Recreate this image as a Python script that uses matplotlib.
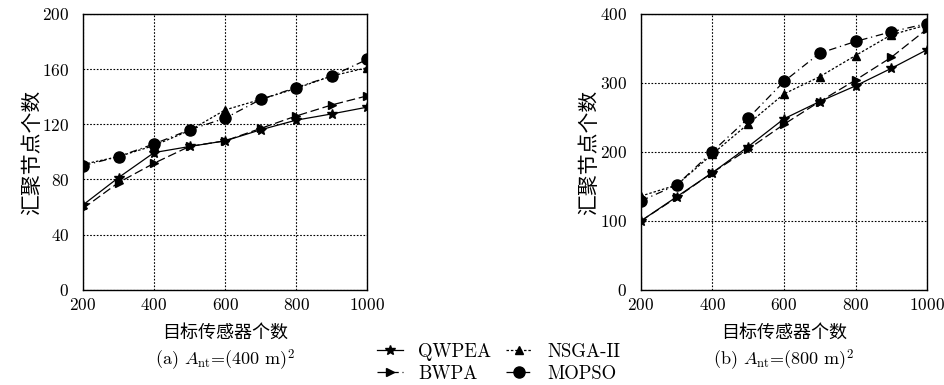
import matplotlib
matplotlib.use('Agg')
import matplotlib.pyplot as plt
import numpy as np

plt.rcParams['mathtext.fontset'] = 'cm'
plt.rcParams['axes.formatter.use_mathtext'] = True

# Data
targets = [200, 300, 400, 500, 600, 700, 800, 900, 1000]

# (a) A_nt = (400 m)^2
qwpea_a = [61.6, 81.4, 99.5, 103.9, 108, 116, 123, 127.5, 132.4]
bwpa_a = [59, 77.8, 91.8, 104, 108, 117, 126, 134, 140.6]
nsga_a = [91, 96.6, 104.6, 115.5, 130.4, 138, 146, 155, 161]
mopso_a = [90, 96.6, 105.8, 116, 124.4, 138, 146.6, 155, 167]

# (b) A_nt = (800 m)^2
qwpea_b = [100, 135, 170, 207.7, 248, 273, 295.6, 321, 348]
bwpa_b = [100, 134, 170, 204, 240, 273, 304, 337, 378]
nsga_b = [136, 152, 197, 240.6, 284, 309, 339.6, 369.6, 384]
mopso_b = [129, 152, 200.5, 248.8, 302, 343, 360, 374, 386]

cjk = 'Noto Sans CJK SC'
num_font = 'cmr10'

styles = [
    dict(label='QWPEA', linestyle='-', marker='*', markersize=7),
    dict(label='BWPA', linestyle=(0, (7, 3)), marker='>', markersize=6),
    dict(label='NSGA-II', linestyle=(0, (2, 1.5)), marker='^', markersize=6),
    dict(label='MOPSO', linestyle=(0, (6, 3, 1, 3)), marker='o', markersize=8),
]

fig = plt.figure(figsize=(9.44, 3.85), dpi=100)
ax1 = fig.add_axes([0.088, 0.247, 0.301, 0.717])
ax2 = fig.add_axes([0.679, 0.247, 0.303, 0.717])


def draw(ax, series, ylim, yticks, caption):
    lines = []
    for vals, st in zip(series, styles):
        ln, = ax.plot(targets, vals, color='black', linewidth=0.9, **st)
        lines.append(ln)
    ax.set_xlim(200, 1000)
    ax.set_ylim(*ylim)
    ax.set_xticks([200, 400, 600, 800, 1000])
    ax.set_yticks(yticks)
    ax.grid(True, color='black', linestyle=(0, (1.5, 1.5)), linewidth=0.8)
    ax.tick_params(length=0, labelsize=12.5)
    ax.tick_params(axis='y', pad=10)
    ax.tick_params(axis='x', pad=5)
    for lab in ax.get_xticklabels() + ax.get_yticklabels():
        lab.set_fontfamily(num_font)
    for s in ax.spines.values():
        s.set_linewidth(1.0)
    ax.set_xlabel('目标传感器个数', fontfamily=cjk, fontsize=13, fontweight='light')
    ax.xaxis.set_label_coords(0.5, -0.123)
    ax.set_ylabel('汇聚节点个数', fontfamily=cjk, fontsize=15, fontweight='light')
    ax.yaxis.set_label_coords(-0.142, 0.5)
    ax.text(0.5, -0.255, caption, transform=ax.transAxes, ha='center', va='center',
            fontsize=13, fontfamily=num_font)
    return lines


lines = draw(ax1, [qwpea_a, bwpa_a, nsga_a, mopso_a], (0, 200), range(0, 201, 40),
             r'(a) $A_{\rm nt}$=(400 m)$^2$')
draw(ax2, [qwpea_b, bwpa_b, nsga_b, mopso_b], (0, 400), range(0, 401, 100),
     r'(b) $A_{\rm nt}$=(800 m)$^2$')

fig.legend(lines, [l.get_label() for l in lines], ncol=2, loc='center',
           bbox_to_anchor=(0.528, 0.058), frameon=False, handlelength=1.4,
           columnspacing=0.8, labelspacing=0.2, handletextpad=0.8,
           prop={'family': num_font, 'size': 13.5})

fig.savefig('out.png', dpi=100)
